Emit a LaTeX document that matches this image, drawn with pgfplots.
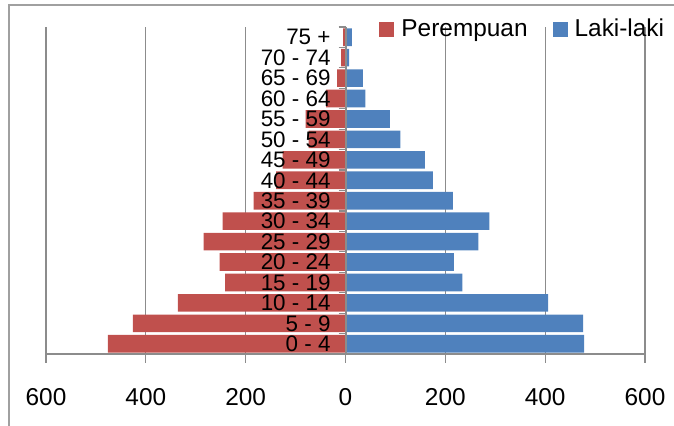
\documentclass[border=0pt]{standalone}
\usepackage{fontspec}
\setmainfont{Liberation Sans}
\usepackage{pgfplots}
\pgfplotsset{compat=1.18}

\definecolor{female}{HTML}{C0504D}
\definecolor{male}{HTML}{4F81BD}
\definecolor{gridgray}{HTML}{8C8C8C}
\definecolor{framegray}{HTML}{A0A0A0}

% age labels and the zero line go above the bars, the grid below them
\pgfplotsset{
  layers/labels over bars/.define layer set={
    axis background,axis grid,pre main,main,axis ticks,axis lines,axis tick labels,axis descriptions,axis foreground
  }{/pgfplots/layers/standard},
  square legend/.style={
    legend image code/.code={\fill[##1] (0pt,-3.75pt) rectangle (7.5pt,3.75pt);}
  },
}

\begin{document}
\begin{tikzpicture}
\begin{axis}[
  set layers=labels over bars,
  scale only axis, width=299.5pt, height=163.5pt,
  at={(0,0)}, anchor=south west,
  xmin=-600, xmax=600, ymin=-0.5, ymax=15.5,
  axis x line=bottom, axis y line=center,
  hide obscured x ticks=false, hide obscured y ticks=false,
  axis line style={-, draw=gridgray, line width=1pt},
  xtick={-600,-400,-200,0,200,400,600},
  xticklabel={\pgfmathparse{abs(\tick)}\pgfmathprintnumber{\pgfmathresult}},
  /pgf/number format/assume math mode=true,
  xmajorgrids, major grid style={gridgray, line width=0.6pt},
  tick align=outside, major tick length=4.3pt, minor tick length=3.5pt,
  tick style={gridgray, line width=0.6pt},
  major y tick style={draw=none},
  ytick={0,...,15},
  minor ytick={-0.5,0.5,...,15.5},
  yticklabels={0 - 4,5 - 9,10 - 14,15 - 19,20 - 24,25 - 29,30 - 34,35 - 39,
    40 - 44,45 - 49,50 - 54,55 - 59,60 - 64,65 - 69,70 - 74,75 +},
  yticklabel style={font=\fontsize{11.2}{12}\selectfont, inner sep=0pt, xshift=-3pt},
  xticklabel style={font=\fontsize{12.2}{14}\selectfont, yshift=-9.5pt},
  legend columns=2,
  legend style={at={(rel axis cs:0.5567,0.9924)}, anchor=west,
    draw=none, fill=none, inner sep=0pt, outer sep=0pt,
    font=\fontsize{12.2}{14}\selectfont,
    nodes={inner sep=0pt},
    /tikz/every odd column/.append style={column sep=3.5pt},
    /tikz/every even column/.append style={column sep=12.5pt}},
]
% Perempuan (drawn to the left)
\addplot[xbar, bar width=8.8pt, bar shift=0pt, fill=female, draw=none, square legend]
  coordinates {(-476,0) (-426,1) (-336,2) (-241,3) (-252,4) (-284,5) (-246,6) (-184,7)
               (-139,8) (-126,9) (-74,10) (-80,11) (-39,12) (-17,13) (-9,14) (-5,15)};
% Laki-laki (drawn to the right)
\addplot[xbar, bar width=8.8pt, bar shift=0pt, fill=male, draw=none, square legend]
  coordinates {(478,0) (476,1) (406,2) (234,3) (217,4) (266,5) (288,6) (215,7)
               (175,8) (159,9) (110,10) (89,11) (40,12) (35,13) (7,14) (13,15)};
\legend{Perempuan, Laki-laki}
\end{axis}
% outer chart frame, only its top and left sides fall inside the page
\draw[framegray, line width=1.2pt] (-18.5pt,-40pt) -- (-18.5pt,174.5pt) -- (320pt,174.5pt);
\pgfresetboundingbox
\path[use as bounding box] (-23pt,-35.5pt) rectangle (314pt,177pt);
\end{tikzpicture}
\end{document}
